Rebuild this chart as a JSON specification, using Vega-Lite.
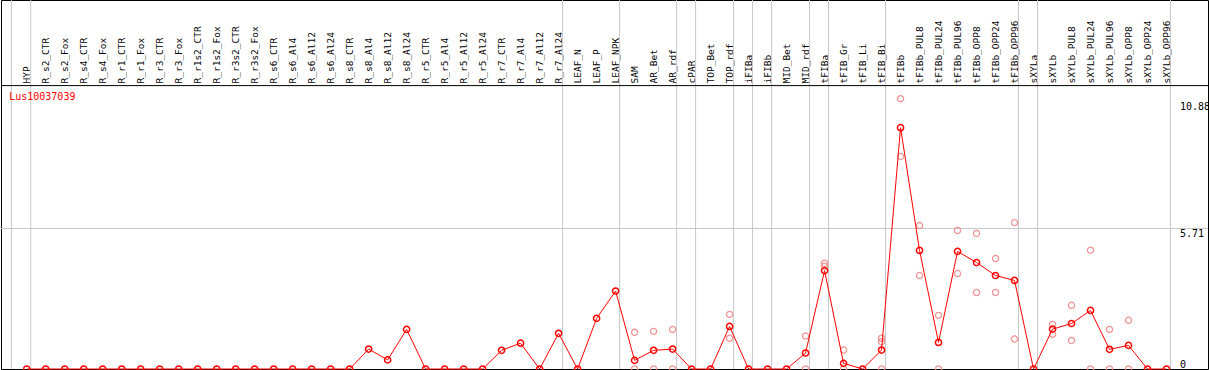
{
  "$schema": "https://vega.github.io/schema/vega-lite/v6.json",
  "width": 1207,
  "height": 369,
  "autosize": {"type": "none"},
  "padding": {"left": 1, "right": 1, "top": 0, "bottom": 1},
  "background": "white",
  "config": {
    "view": {"stroke": "black", "strokeWidth": 1},
    "font": "DejaVu Sans Mono"
  },
  "datasets": {
    "means": [
      {"c": "HYP", "v": 0}, {"c": "R_s2_CTR", "v": 0}, {"c": "R_s2_Fox", "v": 0}, {"c": "R_s4_CTR", "v": 0},
      {"c": "R_s4_Fox", "v": 0}, {"c": "R_r1_CTR", "v": 0}, {"c": "R_r1_Fox", "v": 0}, {"c": "R_r3_CTR", "v": 0},
      {"c": "R_r3_Fox", "v": 0}, {"c": "R_r1s2_CTR", "v": 0}, {"c": "R_r1s2_Fox", "v": 0}, {"c": "R_r3s2_CTR", "v": 0},
      {"c": "R_r3s2_Fox", "v": 0}, {"c": "R_s6_CTR", "v": 0}, {"c": "R_s6_Al4", "v": 0}, {"c": "R_s6_Al12", "v": 0},
      {"c": "R_s6_Al24", "v": 0}, {"c": "R_s8_CTR", "v": 0}, {"c": "R_s8_Al4", "v": 0.81}, {"c": "R_s8_Al12", "v": 0.37},
      {"c": "R_s8_Al24", "v": 1.61}, {"c": "R_r5_CTR", "v": 0}, {"c": "R_r5_Al4", "v": 0}, {"c": "R_r5_Al12", "v": 0},
      {"c": "R_r5_Al24", "v": 0}, {"c": "R_r7_CTR", "v": 0.76}, {"c": "R_r7_Al4", "v": 1.05}, {"c": "R_r7_Al12", "v": 0},
      {"c": "R_r7_Al24", "v": 1.45}, {"c": "LEAF_N", "v": 0}, {"c": "LEAF_P", "v": 2.06}, {"c": "LEAF_NPK", "v": 3.17},
      {"c": "SAM", "v": 0.35}, {"c": "AR_Bet", "v": 0.76}, {"c": "AR_rdf", "v": 0.81}, {"c": "cPAR", "v": 0},
      {"c": "TOP_Bet", "v": 0}, {"c": "TOP_rdf", "v": 1.73}, {"c": "iFIBa", "v": 0}, {"c": "iFIBb", "v": 0},
      {"c": "MID_Bet", "v": 0}, {"c": "MID_rdf", "v": 0.65}, {"c": "tFIBa", "v": 4.0}, {"c": "tFIB_Gr", "v": 0.23},
      {"c": "tFIB_Li", "v": 0}, {"c": "tFIB_Bi", "v": 0.77}, {"c": "tFIBb", "v": 9.81}, {"c": "tFIBb_PUL8", "v": 4.82},
      {"c": "tFIBb_PUL24", "v": 1.08}, {"c": "tFIBb_PUL96", "v": 4.78}, {"c": "tFIBb_OPP8", "v": 4.33}, {"c": "tFIBb_OPP24", "v": 3.8},
      {"c": "tFIBb_OPP96", "v": 3.6}, {"c": "sXYLa", "v": 0}, {"c": "sXYLb", "v": 1.62}, {"c": "sXYLb_PUL8", "v": 1.85},
      {"c": "sXYLb_PUL24", "v": 2.38}, {"c": "sXYLb_PUL96", "v": 0.8}, {"c": "sXYLb_OPP8", "v": 0.96}, {"c": "sXYLb_OPP24", "v": 0},
      {"c": "sXYLb_OPP96", "v": 0}
    ],
    "reps": [
      {"c": "SAM", "v": 1.49}, {"c": "SAM", "v": 0},
      {"c": "AR_Bet", "v": 1.53}, {"c": "AR_Bet", "v": 0},
      {"c": "AR_rdf", "v": 1.61}, {"c": "AR_rdf", "v": 0},
      {"c": "TOP_rdf", "v": 2.22}, {"c": "TOP_rdf", "v": 1.25},
      {"c": "MID_rdf", "v": 1.34}, {"c": "MID_rdf", "v": 0},
      {"c": "tFIBa", "v": 4.3}, {"c": "tFIBa", "v": 4.18},
      {"c": "tFIB_Gr", "v": 0.77}, {"c": "tFIB_Gr", "v": 0},
      {"c": "tFIB_Bi", "v": 1.25}, {"c": "tFIB_Bi", "v": 1.11}, {"c": "tFIB_Bi", "v": 0},
      {"c": "tFIBb", "v": 10.99}, {"c": "tFIBb", "v": 8.64},
      {"c": "tFIBb_PUL8", "v": 5.83}, {"c": "tFIBb_PUL8", "v": 3.8},
      {"c": "tFIBb_PUL24", "v": 2.18}, {"c": "tFIBb_PUL24", "v": 0},
      {"c": "tFIBb_PUL96", "v": 5.63}, {"c": "tFIBb_PUL96", "v": 3.88},
      {"c": "tFIBb_OPP8", "v": 5.51}, {"c": "tFIBb_OPP8", "v": 3.11},
      {"c": "tFIBb_OPP24", "v": 4.49}, {"c": "tFIBb_OPP24", "v": 3.11},
      {"c": "tFIBb_OPP96", "v": 5.95}, {"c": "tFIBb_OPP96", "v": 1.22},
      {"c": "sXYLb", "v": 1.81}, {"c": "sXYLb", "v": 1.41},
      {"c": "sXYLb_PUL8", "v": 2.59}, {"c": "sXYLb_PUL8", "v": 1.16},
      {"c": "sXYLb_PUL24", "v": 4.83}, {"c": "sXYLb_PUL24", "v": 0},
      {"c": "sXYLb_PUL96", "v": 1.61}, {"c": "sXYLb_PUL96", "v": 0},
      {"c": "sXYLb_OPP8", "v": 1.98}, {"c": "sXYLb_OPP8", "v": 0}
    ],
    "seps": [
      {"c": "HYP"}, {"c": "R_r7_Al24"}, {"c": "LEAF_NPK"}, {"c": "AR_rdf"}, {"c": "cPAR"}, {"c": "TOP_rdf"},
      {"c": "iFIBa"}, {"c": "iFIBb"}, {"c": "MID_rdf"}, {"c": "tFIBa"}, {"c": "tFIB_Bi"}, {"c": "tFIBb_OPP96"},
      {"c": "sXYLa"}, {"c": "sXYLb_OPP96"}
    ],
    "first": [{"c": "HYP"}],
    "gene": [{"c": "HYP", "v": 11.06, "name": "Lus10037039"}],
    "grid": [{"v": 5.71}],
    "header": [{"v": 11.52}]
  },
  "layer": [
    {
      "data": {"name": "seps"},
      "mark": {"type": "rule", "color": "#c8c8c8", "strokeWidth": 1, "xOffset": 4},
      "encoding": {
        "x": {
          "field": "c", "type": "nominal", "sort": null,
          "scale": {
            "type": "point", "padding": 0, "range": [25.7, 1165.5],
            "domain": ["HYP","R_s2_CTR","R_s2_Fox","R_s4_CTR","R_s4_Fox","R_r1_CTR","R_r1_Fox","R_r3_CTR","R_r3_Fox","R_r1s2_CTR","R_r1s2_Fox","R_r3s2_CTR","R_r3s2_Fox","R_s6_CTR","R_s6_Al4","R_s6_Al12","R_s6_Al24","R_s8_CTR","R_s8_Al4","R_s8_Al12","R_s8_Al24","R_r5_CTR","R_r5_Al4","R_r5_Al12","R_r5_Al24","R_r7_CTR","R_r7_Al4","R_r7_Al12","R_r7_Al24","LEAF_N","LEAF_P","LEAF_NPK","SAM","AR_Bet","AR_rdf","cPAR","TOP_Bet","TOP_rdf","iFIBa","iFIBb","MID_Bet","MID_rdf","tFIBa","tFIB_Gr","tFIB_Li","tFIB_Bi","tFIBb","tFIBb_PUL8","tFIBb_PUL24","tFIBb_PUL96","tFIBb_OPP8","tFIBb_OPP24","tFIBb_OPP96","sXYLa","sXYLb","sXYLb_PUL8","sXYLb_PUL24","sXYLb_PUL96","sXYLb_OPP8","sXYLb_OPP24","sXYLb_OPP96"]
          },
          "axis": {
            "orient": "top", "title": null, "domain": false, "ticks": false, "tickSize": 0, "grid": false,
            "labelAngle": -90, "labelAlign": "left", "labelBaseline": "middle", "labelPadding": -83,
            "labelFont": "DejaVu Sans Mono", "labelFontSize": 9.5, "labelColor": "black", "labelOverlap": false, "labelBound": false
          }
        }
      }
    },
    {
      "data": {"name": "first"},
      "mark": {"type": "rule", "color": "#c8c8c8", "strokeWidth": 1, "xOffset": -15.3},
      "encoding": {"x": {"field": "c", "type": "nominal", "sort": null}}
    },
    {
      "data": {"name": "grid"},
      "mark": {"type": "rule", "color": "#c8c8c8", "strokeWidth": 1},
      "encoding": {
        "y": {
          "field": "v", "type": "quantitative",
          "scale": {"domain": [0, 15], "nice": false, "zero": true},
          "axis": {
            "orient": "right", "title": null, "domain": false, "ticks": false, "tickSize": 0, "grid": false,
            "values": [0, 5.71, 10.88], "format": ".2~f",
            "labelAlign": "left", "labelPadding": -28.5,
            "labelBaseline": {"condition": {"test": "datum.value == 0", "value": "bottom"}, "value": "top"},
            "labelFont": "DejaVu Sans Mono", "labelFontSize": 10, "labelColor": "black", "labelFlush": false
          }
        }
      }
    },
    {
      "data": {"name": "header"},
      "mark": {"type": "rule", "color": "black", "strokeWidth": 1},
      "encoding": {"y": {"field": "v", "type": "quantitative"}}
    },
    {
      "data": {"name": "reps"},
      "mark": {"type": "point", "shape": "circle", "filled": false, "stroke": "#f09595", "strokeWidth": 1.3, "size": 38, "opacity": 1},
      "encoding": {
        "x": {"field": "c", "type": "nominal", "sort": null},
        "y": {"field": "v", "type": "quantitative"}
      }
    },
    {
      "data": {"name": "means"},
      "mark": {"type": "line", "color": "#ff0000", "strokeWidth": 1},
      "encoding": {
        "x": {"field": "c", "type": "nominal", "sort": null},
        "y": {"field": "v", "type": "quantitative"}
      }
    },
    {
      "data": {"name": "means"},
      "mark": {"type": "point", "shape": "circle", "filled": false, "stroke": "#ff0000", "strokeWidth": 1.5, "size": 38, "opacity": 1},
      "encoding": {
        "x": {"field": "c", "type": "nominal", "sort": null},
        "y": {"field": "v", "type": "quantitative"}
      }
    },
    {
      "data": {"name": "gene"},
      "mark": {"type": "text", "color": "#ff0000", "font": "DejaVu Sans Mono", "fontSize": 10, "align": "left", "baseline": "middle", "dx": -17.5},
      "encoding": {
        "x": {"field": "c", "type": "nominal", "sort": null},
        "y": {"field": "v", "type": "quantitative"},
        "text": {"field": "name"}
      }
    }
  ]
}
